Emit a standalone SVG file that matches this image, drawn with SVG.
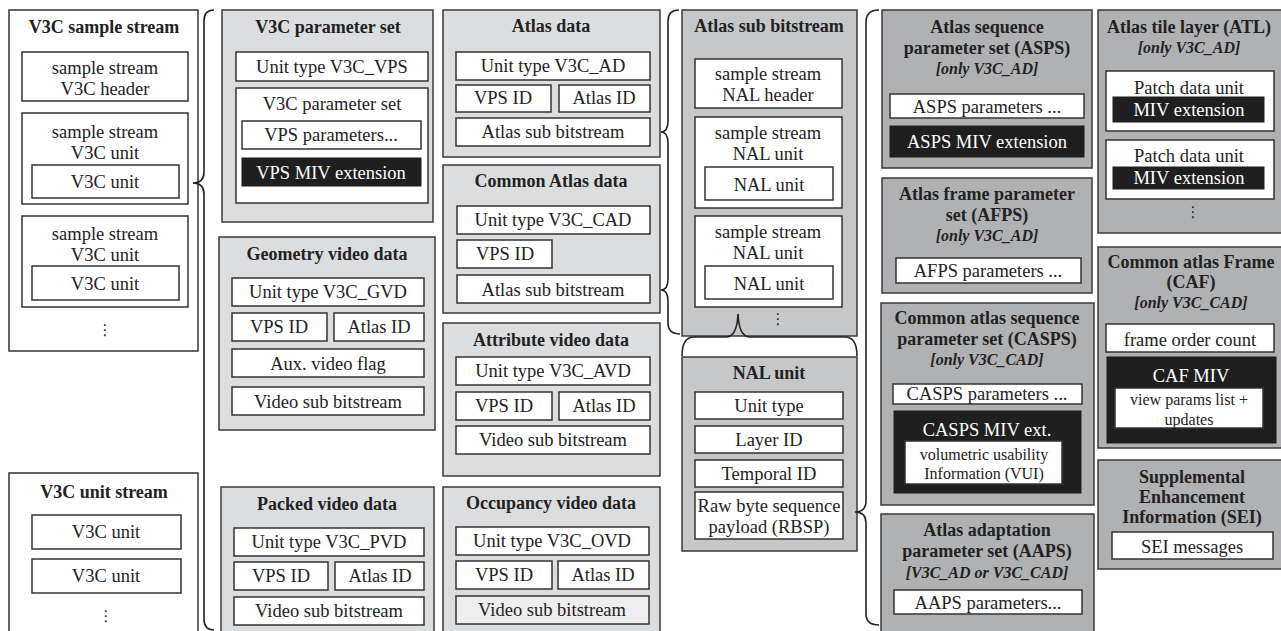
<svg xmlns="http://www.w3.org/2000/svg" width="1281" height="631" viewBox="0 0 1281 631">
<style>
  .wb{fill:#fff;stroke:#333;stroke-width:1.5}
  .g1{fill:#dcdddf;stroke:#3a3a3a;stroke-width:1.5}
  .g2{fill:#c6c7c9;stroke:#3a3a3a;stroke-width:1.5}
  .g3{fill:#b0b1b3;stroke:#3a3a3a;stroke-width:1.5}
  .lt{fill:#eeeeef;stroke:#333;stroke-width:1.5}
  .bk{fill:#1f1f1f;stroke:#1f1f1f;stroke-width:1}
  .t{font-family:"Liberation Serif",serif;font-size:18.5px;fill:#222;text-anchor:middle;dominant-baseline:central}
  .h{font-weight:bold;font-size:18px}
  .it{font-weight:bold;font-style:italic;font-size:16px}
  .sm{font-size:16px}
  .wt{fill:#fff}
  .dots{font-family:"DejaVu Sans",sans-serif;font-size:15px;fill:#222;text-anchor:middle;dominant-baseline:central}
  .br{fill:none;stroke:#222;stroke-width:1.6}
</style>

<!-- V3C sample stream -->
<g id="v3c-sample-stream">
  <rect class="wb" x="9" y="10" width="189" height="341"/>
  <text class="t h" x="104" y="27">V3C sample stream</text>
  <rect class="wb" x="22" y="52" width="166" height="49"/>
  <text class="t" x="105" y="68">sample stream</text>
  <text class="t" x="105" y="89">V3C header</text>
  <rect class="wb" x="22" y="113" width="166" height="91"/>
  <text class="t" x="105" y="132">sample stream</text>
  <text class="t" x="105" y="153">V3C unit</text>
  <rect class="wb" x="32" y="165" width="147" height="33"/>
  <text class="t" x="105" y="182">V3C unit</text>
  <rect class="wb" x="22" y="216" width="166" height="91"/>
  <text class="t" x="105" y="234">sample stream</text>
  <text class="t" x="105" y="255">V3C unit</text>
  <rect class="wb" x="32" y="266" width="147" height="34"/>
  <text class="t" x="105" y="284">V3C unit</text>
  <text class="dots" x="105" y="330">⋮</text>
</g>

<!-- V3C unit stream -->
<g id="v3c-unit-stream">
  <rect class="wb" x="9" y="473" width="189" height="180"/>
  <text class="t h" x="104" y="492">V3C unit stream</text>
  <rect class="wb" x="32" y="515" width="149" height="34"/>
  <text class="t" x="106" y="532">V3C unit</text>
  <rect class="wb" x="32" y="559" width="149" height="34"/>
  <text class="t" x="106" y="576">V3C unit</text>
  <text class="dots" x="106" y="616">⋮</text>
</g>

<!-- V3C parameter set -->
<g id="v3c-parameter-set">
  <rect class="g1" x="222" y="10" width="211" height="212"/>
  <text class="t h" x="328" y="27">V3C parameter set</text>
  <rect class="wb" x="236" y="52" width="192" height="29"/>
  <text class="t" x="332" y="67">Unit type V3C_VPS</text>
  <rect class="wb" x="236" y="88" width="192" height="115"/>
  <text class="t" x="332" y="104">V3C parameter set</text>
  <rect class="wb" x="242" y="121" width="179" height="28"/>
  <text class="t" x="331" y="135">VPS parameters...</text>
  <rect class="bk" x="242" y="158" width="179" height="28"/>
  <text class="t wt" x="331" y="173">VPS MIV extension</text>
</g>

<!-- Geometry video data -->
<g id="geometry-video-data">
  <rect class="g1" x="219" y="237" width="216" height="193"/>
  <text class="t h" x="327" y="254">Geometry video data</text>
  <rect class="wb" x="232" y="278" width="192" height="28"/>
  <text class="t" x="328" y="292">Unit type V3C_GVD</text>
  <rect class="wb" x="232" y="313" width="95" height="28"/>
  <text class="t" x="279" y="327">VPS ID</text>
  <rect class="wb" x="334" y="313" width="90" height="28"/>
  <text class="t" x="379" y="327">Atlas ID</text>
  <rect class="wb" x="232" y="349" width="192" height="28"/>
  <text class="t" x="328" y="364">Aux. video flag</text>
  <rect class="wb" x="232" y="387" width="192" height="28"/>
  <text class="t" x="328" y="402">Video sub bitstream</text>
</g>

<!-- Packed video data -->
<g id="packed-video-data">
  <rect class="g1" x="221" y="487" width="213" height="160"/>
  <text class="t h" x="327" y="504">Packed video data</text>
  <rect class="wb" x="234" y="528" width="190" height="28"/>
  <text class="t" x="329" y="542">Unit type V3C_PVD</text>
  <rect class="wb" x="234" y="562" width="94" height="28"/>
  <text class="t" x="281" y="576">VPS ID</text>
  <rect class="wb" x="335" y="562" width="89" height="28"/>
  <text class="t" x="380" y="576">Atlas ID</text>
  <rect class="wb" x="234" y="597" width="190" height="28"/>
  <text class="t" x="329" y="611">Video sub bitstream</text>
</g>

<!-- Atlas data -->
<g id="atlas-data">
  <rect class="g1" x="443" y="10" width="217" height="147"/>
  <text class="t h" x="551" y="26">Atlas data</text>
  <rect class="wb" x="456" y="52" width="194" height="28"/>
  <text class="t" x="553" y="66">Unit type V3C_AD</text>
  <rect class="wb" x="456" y="85" width="95" height="27"/>
  <text class="t" x="503" y="98">VPS ID</text>
  <rect class="wb" x="559" y="85" width="91" height="27"/>
  <text class="t" x="604" y="98">Atlas ID</text>
  <rect class="wb" x="456" y="118" width="194" height="28"/>
  <text class="t" x="553" y="132">Atlas sub bitstream</text>
</g>

<!-- Common Atlas data -->
<g id="common-atlas-data">
  <rect class="g1" x="443" y="165" width="217" height="148"/>
  <text class="t h" x="551" y="181">Common Atlas data</text>
  <rect class="wb" x="457" y="206" width="193" height="28"/>
  <text class="t" x="553" y="220">Unit type V3C_CAD</text>
  <rect class="wb" x="457" y="240" width="95" height="28"/>
  <text class="t" x="505" y="254">VPS ID</text>
  <rect class="wb" x="457" y="275" width="193" height="28"/>
  <text class="t" x="553" y="290">Atlas sub bitstream</text>
</g>

<!-- Attribute video data -->
<g id="attribute-video-data">
  <rect class="g1" x="443" y="323" width="217" height="153"/>
  <text class="t h" x="551" y="340">Attribute video data</text>
  <rect class="wb" x="456" y="357" width="194" height="28"/>
  <text class="t" x="553" y="371">Unit type V3C_AVD</text>
  <rect class="wb" x="456" y="392" width="96" height="28"/>
  <text class="t" x="504" y="406">VPS ID</text>
  <rect class="wb" x="559" y="392" width="91" height="28"/>
  <text class="t" x="604" y="406">Atlas ID</text>
  <rect class="wb" x="456" y="426" width="194" height="28"/>
  <text class="t" x="553" y="440">Video sub bitstream</text>
</g>

<!-- Occupancy video data -->
<g id="occupancy-video-data">
  <rect class="g1" x="443" y="487" width="217" height="160"/>
  <text class="t h" x="551" y="503">Occupancy video data</text>
  <rect class="wb" x="456" y="527" width="193" height="28"/>
  <text class="t" x="552" y="541">Unit type V3C_OVD</text>
  <rect class="wb" x="456" y="561" width="96" height="28"/>
  <text class="t" x="504" y="575">VPS ID</text>
  <rect class="wb" x="558" y="561" width="91" height="28"/>
  <text class="t" x="603" y="575">Atlas ID</text>
  <rect class="lt" x="456" y="596" width="193" height="28"/>
  <text class="t" x="552" y="610">Video sub bitstream</text>
</g>

<!-- Atlas sub bitstream -->
<g id="atlas-sub-bitstream">
  <rect class="g2" x="682" y="10" width="175" height="326"/>
  <text class="t h" x="769" y="26">Atlas sub bitstream</text>
  <rect class="wb" x="695" y="59" width="147" height="49"/>
  <text class="t" x="768" y="74">sample stream</text>
  <text class="t" x="768" y="95">NAL header</text>
  <rect class="wb" x="695" y="117" width="147" height="91"/>
  <text class="t" x="768" y="133">sample stream</text>
  <text class="t" x="768" y="154">NAL unit</text>
  <rect class="wb" x="705" y="167" width="128" height="33"/>
  <text class="t" x="769" y="185">NAL unit</text>
  <rect class="wb" x="695" y="216" width="147" height="91"/>
  <text class="t" x="768" y="232">sample stream</text>
  <text class="t" x="768" y="253">NAL unit</text>
  <rect class="wb" x="705" y="266" width="128" height="33"/>
  <text class="t" x="769" y="284">NAL unit</text>
  <text class="dots" x="778" y="319">⋮</text>
</g>

<!-- NAL unit -->
<g id="nal-unit">
  <rect class="g2" x="682" y="357" width="175" height="194"/>
  <text class="t h" x="769" y="373">NAL unit</text>
  <rect class="wb" x="695" y="392" width="148" height="27"/>
  <text class="t" x="769" y="406">Unit type</text>
  <rect class="wb" x="695" y="426" width="148" height="27"/>
  <text class="t" x="769" y="440">Layer ID</text>
  <rect class="wb" x="695" y="460" width="148" height="27"/>
  <text class="t" x="769" y="474">Temporal ID</text>
  <rect class="wb" x="695" y="492" width="148" height="47"/>
  <text class="t" x="769" y="506">Raw byte sequence</text>
  <text class="t" x="769" y="527">payload (RBSP)</text>
</g>

<!-- ASPS -->
<g id="asps">
  <rect class="g3" x="882" y="10" width="210" height="158"/>
  <text class="t h" x="987" y="27">Atlas sequence</text>
  <text class="t h" x="987" y="48">parameter set (ASPS)</text>
  <text class="t it" x="987" y="68">[only V3C_AD]</text>
  <rect class="wb" x="890" y="94" width="194" height="24"/>
  <text class="t" x="987" y="107">ASPS parameters ...</text>
  <rect class="bk" x="890" y="126" width="194" height="31"/>
  <text class="t wt" x="987" y="142">ASPS MIV extension</text>
</g>

<!-- AFPS -->
<g id="afps">
  <rect class="g3" x="882" y="178" width="210" height="115"/>
  <text class="t h" x="987" y="194">Atlas frame parameter</text>
  <text class="t h" x="987" y="215">set (AFPS)</text>
  <text class="t it" x="987" y="235">[only V3C_AD]</text>
  <rect class="wb" x="896" y="258" width="185" height="25"/>
  <text class="t" x="988" y="271">AFPS parameters ...</text>
</g>

<!-- CASPS -->
<g id="casps">
  <rect class="g3" x="881" y="303" width="213" height="202"/>
  <text class="t h" x="987" y="318">Common atlas sequence</text>
  <text class="t h" x="987" y="339">parameter set (CASPS)</text>
  <text class="t it" x="987" y="359">[only V3C_CAD]</text>
  <rect class="wb" x="893" y="384" width="189" height="20"/>
  <text class="t" x="987" y="394">CASPS parameters ...</text>
  <rect class="bk" x="894" y="411" width="187" height="82"/>
  <text class="t wt" x="987" y="430">CASPS MIV ext.</text>
  <rect class="wb" x="905" y="441" width="157" height="43"/>
  <text class="t sm" x="984" y="454">volumetric usability</text>
  <text class="t sm" x="984" y="473">Information (VUI)</text>
</g>

<!-- AAPS -->
<g id="aaps">
  <rect class="g3" x="881" y="514" width="213" height="130"/>
  <text class="t h" x="987" y="530">Atlas adaptation</text>
  <text class="t h" x="987" y="551">parameter set (AAPS)</text>
  <text class="t it" x="987" y="572">[V3C_AD or V3C_CAD]</text>
  <rect class="wb" x="894" y="590" width="188" height="24"/>
  <text class="t" x="988" y="603">AAPS parameters...</text>
</g>

<!-- ATL -->
<g id="atl">
  <rect class="g3" x="1098" y="10" width="190" height="223"/>
  <text class="t h" x="1189" y="27">Atlas tile layer (ATL)</text>
  <text class="t it" x="1189" y="47">[only V3C_AD]</text>
  <rect class="wb" x="1106" y="71" width="168" height="60"/>
  <text class="t" x="1189" y="88">Patch data unit</text>
  <rect class="bk" x="1113" y="97" width="151" height="25"/>
  <text class="t wt" x="1189" y="110">MIV extension</text>
  <rect class="wb" x="1106" y="140" width="168" height="59"/>
  <text class="t" x="1189" y="156">Patch data unit</text>
  <rect class="bk" x="1113" y="167" width="151" height="22"/>
  <text class="t wt" x="1189" y="178">MIV extension</text>
  <text class="dots" x="1193" y="212">⋮</text>
</g>

<!-- CAF -->
<g id="caf">
  <rect class="g3" x="1098" y="247" width="190" height="201"/>
  <text class="t h" x="1191" y="262">Common atlas Frame</text>
  <text class="t h" x="1191" y="282">(CAF)</text>
  <text class="t it" x="1191" y="302">[only V3C_CAD]</text>
  <rect class="wb" x="1106" y="324" width="168" height="28"/>
  <text class="t" x="1190" y="340">frame order count</text>
  <rect class="bk" x="1107" y="357" width="169" height="86"/>
  <text class="t wt" x="1191" y="376">CAF MIV</text>
  <rect class="wb" x="1115" y="388" width="148" height="40"/>
  <text class="t sm" x="1189" y="399">view params list +</text>
  <text class="t sm" x="1189" y="419">updates</text>
</g>

<!-- SEI -->
<g id="sei">
  <rect class="g3" x="1098" y="460" width="190" height="109"/>
  <text class="t h" x="1192" y="477">Supplemental</text>
  <text class="t h" x="1192" y="497">Enhancement</text>
  <text class="t h" x="1192" y="517">Information (SEI)</text>
  <rect class="wb" x="1112" y="532" width="161" height="27"/>
  <text class="t" x="1192" y="547">SEI messages</text>
</g>

<!-- braces, drawn over the boxes -->
<g id="connectors">
  <path class="br" d="M214,10 Q204,10 204,21 L204,172 Q204,183 193,183 Q204,183 204,194 L204,619 Q204,630 214,630"/>
  <path class="br" d="M679,10 Q668,10 668,21 L668,121 Q668,132 661,132 Q668,132 668,143 L668,279 Q668,290 661,290 Q668,290 668,301 L668,323 Q668,334 680,334"/>
  <path class="br" d="M682,356 Q682,337 694,337 L726,337 Q737,337 738,314 Q739,337 750,337 L845,337 Q857,337 857,356"/>
  <path class="br" d="M879,10 Q866,10 866,22 L866,501 Q866,512 855,512 Q866,512 866,523 L866,614 Q866,625 879,625"/>
</g>
</svg>
